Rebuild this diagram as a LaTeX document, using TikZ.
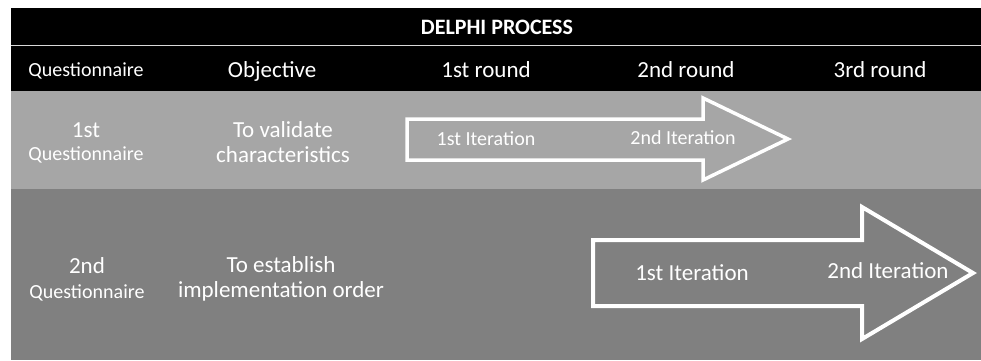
\documentclass[tikz,border=0pt]{standalone}
\usepackage{fontspec}
\setmainfont{Carlito}
\begin{document}
\begin{tikzpicture}[x=1pt,y=-1pt,
  txt/.style={text=white,inner sep=0pt,anchor=base},
  hdr/.style={txt,font=\fontsize{23}{27}\selectfont},
  hdrs/.style={txt,font=\fontsize{20}{24}\selectfont},
  big/.style={txt,font=\fontsize{23}{27}\selectfont},
  small/.style={txt,font=\fontsize{20}{24}\selectfont},
  arrowshape/.style={draw=white,line join=miter}
]
\useasboundingbox (0,0) rectangle (981,360);
% bands
\fill[black] (11,8) rectangle (981,44.5);
\fill[white!85!black] (11,44.5) rectangle (981,46);
\fill[black] (11,46) rectangle (981,91);
\fill[black!35] (11,91) rectangle (981,189);
\fill[black!50] (11,189) rectangle (981,360);
% title
\node[txt,font=\bfseries\fontsize{22}{26}\selectfont] (title) at (497,34) {DELPHI PROCESS};
% header
\node[hdrs] (hq) at (86,76) {Questionnaire};
\node[hdr] (ho) at (272,77) {Objective};
\node[hdr] (h1) at (486,77) {1st round};
\node[hdr] (h2) at (686,77) {2nd round};
\node[hdr] (h3) at (880,77) {3rd round};
% arrows
\draw[arrowshape,line width=3.5] (407,119) -- (703,119) -- (703,98) -- (788,139) -- (703,180) -- (703,160) -- (407,160) -- cycle;
\draw[arrowshape,line width=4] (593,240) -- (862,240) -- (862,207) -- (973,273) -- (862,339) -- (862,306) -- (593,306) -- cycle;
% row 1
\node[big] (q1a) at (86,137) {1st};
\node[small] (q1b) at (86,160) {Questionnaire};
\node[big] (o1a) at (283,137) {To validate};
\node[big] (o1b) at (283,162) {characteristics};
\node[small] (i11) at (486,145) {1st Iteration};
\node[small] (i12) at (683,144) {2nd Iteration};
% row 2
\node[big] (q2a) at (87,273) {2nd};
\node[small] (q2b) at (87,298) {Questionnaire};
\node[big] (o2a) at (281,272) {To establish};
\node[big] (o2b) at (281,297) {implementation order};
\node[big] (i21) at (692,280) {1st Iteration};
\node[big] (i22) at (888,278) {2nd Iteration};
\end{tikzpicture}
\end{document}
